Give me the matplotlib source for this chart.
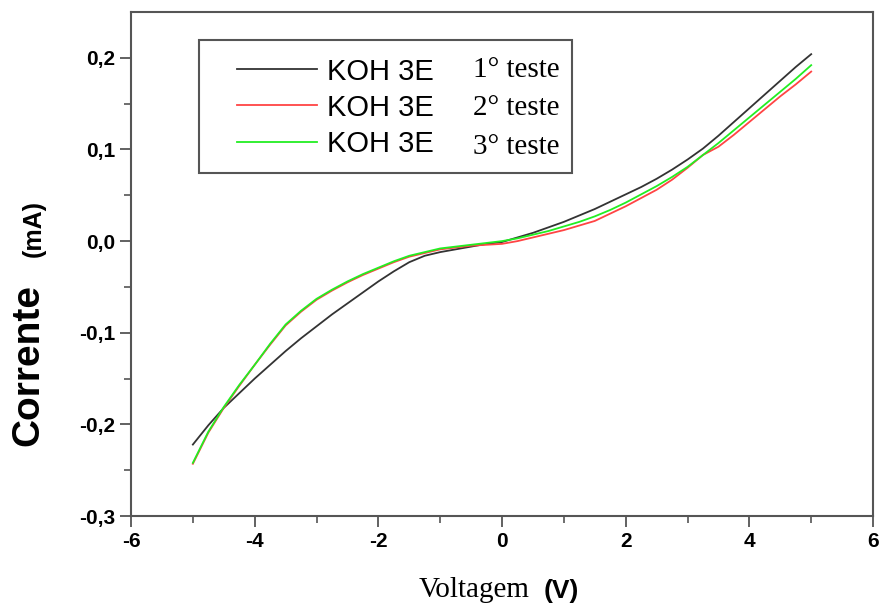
import numpy as np
import matplotlib
matplotlib.use("Agg")
import matplotlib.pyplot as plt
from matplotlib.patches import Rectangle

plt.rcParams['axes.unicode_minus'] = False

# tensão (V)
voltagem = [-5.0, -4.75, -4.5, -4.25, -4.0, -3.75, -3.5, -3.25, -3.0, -2.75,
            -2.5, -2.25, -2.0, -1.75, -1.5, -1.25, -1.0, -0.75, -0.5, -0.25,
            0.0, 0.25, 0.5, 0.75, 1.0, 1.25, 1.5, 1.75, 2.0, 2.25,
            2.5, 2.75, 3.0, 3.25, 3.5, 3.75, 4.0, 4.25, 4.5, 4.75, 5.0]

# corrente (mA) - 1°, 2° e 3° teste
teste1 = [-0.222, -0.201, -0.182, -0.166, -0.150, -0.135, -0.120, -0.106, -0.093, -0.080,
          -0.068, -0.056, -0.044, -0.033, -0.023, -0.016, -0.012, -0.009, -0.006, -0.003,
          -0.001, 0.004, 0.009, 0.015, 0.021, 0.028, 0.035, 0.043, 0.051, 0.059,
          0.068, 0.078, 0.089, 0.101, 0.115, 0.130, 0.145, 0.160, 0.175, 0.190, 0.204]
teste2 = [-0.243, -0.209, -0.182, -0.158, -0.135, -0.113, -0.092, -0.077, -0.064, -0.054,
          -0.045, -0.037, -0.030, -0.023, -0.017, -0.013, -0.009, -0.007, -0.005, -0.004,
          -0.003, 0.000, 0.004, 0.008, 0.012, 0.017, 0.022, 0.030, 0.038, 0.047,
          0.056, 0.067, 0.080, 0.094, 0.103, 0.116, 0.130, 0.144, 0.158, 0.171, 0.185]
teste3 = [-0.242, -0.208, -0.181, -0.157, -0.135, -0.112, -0.091, -0.076, -0.063, -0.053,
          -0.044, -0.036, -0.029, -0.022, -0.016, -0.012, -0.008, -0.006, -0.004, -0.002,
          0.000, 0.003, 0.007, 0.011, 0.016, 0.021, 0.027, 0.034, 0.042, 0.051,
          0.060, 0.070, 0.081, 0.094, 0.107, 0.121, 0.135, 0.149, 0.163, 0.177, 0.192]

series = [teste1, teste2, teste3]
nomes = ["1° teste", "2° teste", "3° teste"]
cores = ["#333333", "#ff4444", "#22ee22"]

xticks = [-6, -4, -2, 0, 2, 4, 6]
yticks = [-0.3, -0.2, -0.1, 0.0, 0.1, 0.2]
ytick_labels = ["-0,3", "-0,2", "-0,1", "0,0", "0,1", "0,2"]

fig = plt.figure(figsize=(8.83, 6.13), dpi=100)
ax = fig.add_axes([0.1484, 0.1582, 0.8403, 0.8222])

for ys, cor in zip(series, cores):
    ax.plot(voltagem, ys, color=cor, lw=1.3, label="KOH 3E")

ax.set_xlim(-6, 6)
ax.set_ylim(-0.3, 0.25)
ax.set_xticks(xticks)
ax.set_xticks(np.arange(-5, 6, 2), minor=True)
ax.set_yticks(yticks)
ax.set_yticklabels(ytick_labels)
ax.set_yticks(np.arange(-0.25, 0.25, 0.1), minor=True)

for s in ax.spines.values():
    s.set_color("#555555")
    s.set_linewidth(1.5)
ax.tick_params(which="major", direction="out", length=8, width=1.3, color="#555555",
               labelsize=15, top=False, right=False)
ax.tick_params(which="minor", direction="out", length=5, width=1.2, color="#555555",
               top=False, right=False)
for lab in ax.get_xticklabels() + ax.get_yticklabels():
    lab.set_fontfamily("Liberation Sans")
    lab.set_fontweight("bold")

# caixa da legenda
ax.add_patch(Rectangle((0.0916, 0.6806), 0.5027, 0.2638, transform=ax.transAxes,
                       fill=False, ec="#555555", lw=1.5, zorder=5))
leg = ax.legend(loc="upper left", bbox_to_anchor=(0.1429, 0.9097), frameon=False,
                borderpad=0, borderaxespad=0, handlelength=2.74, handletextpad=0.34,
                labelspacing=0.28, prop={"family": "Liberation Sans", "size": 21})
for ypos, nome in zip([0.8849, 0.8095, 0.7321], nomes):
    ax.text(0.4609, ypos, nome, transform=ax.transAxes, va="center", ha="left",
            family="Liberation Serif", fontsize=21)

# rótulos dos eixos
fig.text(0.0317, 0.4046, "Corrente", rotation=90, ha="center", va="center",
         family="Liberation Sans", fontweight="bold", fontsize=28)
fig.text(0.0385, 0.628, "(mA)", rotation=90, ha="center", va="center",
         family="Liberation Sans", fontweight="bold", fontsize=18)
fig.text(0.5368, 0.0375, "Voltagem", ha="center", va="center",
         family="Liberation Serif", fontsize=21)
fig.text(0.636, 0.036, "(V)", ha="center", va="center",
         family="Liberation Sans", fontweight="bold", fontsize=19)

fig.savefig("out.png", dpi=100)
